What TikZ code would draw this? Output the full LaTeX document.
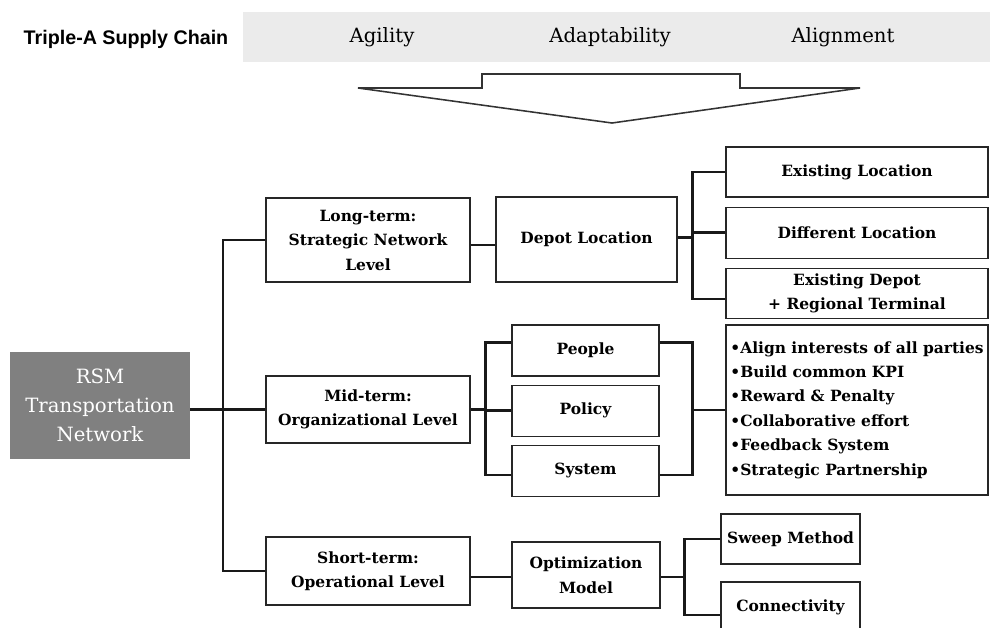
\documentclass[tikz,border=0pt]{standalone}
\usepackage{fontspec}
\setmainfont{DejaVu Serif}
\setsansfont{Liberation Sans}
\usetikzlibrary{positioning, calc}
\definecolor{bandgray}{RGB}{235,235,235}
\definecolor{rootgray}{RGB}{128,128,128}

\begin{document}
\begin{tikzpicture}[x=0.025cm, y=-0.025cm,
    box/.style={draw=black!85, line width=0.8pt, fill=white, align=center, inner sep=0pt,
        font=\bfseries\fontsize{11}{17.4}\selectfont},
    head/.style={font=\fontsize{14}{16}\selectfont},
    link/.style={line width=1.7pt, black!90}]
    \useasboundingbox (0,0) rectangle (990,627);

    \fill[bandgray] (243,12) rectangle (990,62);
    \node[font=\sffamily\bfseries\fontsize{14}{16}\selectfont] (chain) at (126,39) {Triple-A Supply Chain};
    \node[head] (agility) at (382,37) {Agility};
    \node[head] (adapt) at (610,37) {Adaptability};
    \node[head] (align) at (843,37) {Alignment};

    \draw[line width=1.1pt, black!80, fill=white]
        (482,74) -- (740,74) -- (740,88) -- (860,88) -- (612,123) -- (358,88) -- (482,88) -- cycle;

    \node[fill=rootgray, text=white, minimum width=4.5cm, minimum height=2.675cm, align=center,
        font=\fontsize{14}{20.6}\selectfont] (rsm) at (100,405.5) {RSM\\Transportation\\Network};

    \node[box, minimum width=5.1cm, minimum height=2.1cm] (long) at (368,240) {Long-term:\\Strategic Network\\Level};
    \node[box, minimum width=5.1cm, minimum height=1.675cm] (mid) at (368,409.5) {Mid-term:\\Organizational Level};
    \node[box, minimum width=5.1cm, minimum height=1.7cm] (short) at (368,571) {Short-term:\\Operational Level};

    \node[box, minimum width=4.525cm, minimum height=2.125cm] (depot) at (586.5,239.5) {Depot Location};
    \node[box, minimum width=6.55cm, minimum height=1.25cm] (exloc) at (857,172) {Existing Location};
    \node[box, minimum width=6.55cm, minimum height=1.275cm, below=0.225cm of exloc] (diffloc) {Different Location};
    \node[box, minimum width=6.55cm, minimum height=1.25cm, below=0.225cm of diffloc] (exdepot) {Existing Depot\\+ Regional Terminal};

    \node[box, minimum width=3.675cm, minimum height=1.275cm] (people) at (585.5,350.5) {People};
    \node[box, minimum width=3.675cm, minimum height=1.275cm, below=0.2cm of people] (policy) {Policy};
    \node[box, minimum width=3.675cm, minimum height=1.275cm, below=0.2cm of policy] (system) {System};
    \node[box, minimum width=6.55cm, minimum height=4.25cm, align=left] (bullets) at (857,410)
        {•Align interests of all parties\\•Build common KPI\\•Reward \& Penalty\\•Collaborative effort\\•Feedback System\\•Strategic Partnership};

    \node[box, minimum width=3.7cm, minimum height=1.65cm] (opt) at (586,575) {Optimization\\Model};
    \node[box, minimum width=3.475cm, minimum height=1.25cm] (sweep) at (790.5,539) {Sweep Method};
    \node[box, minimum width=3.475cm, minimum height=1.25cm] (conn) at (790.5,607) {Connectivity};

    \coordinate (trunk) at (223,409);
    \draw[link] (rsm.east |- mid.west) -- (mid.west);
    \draw[link] (long.west) -| (trunk) |- (short.west);

    \draw[link] ($(long.east)+(0,5)$) -- ($(long.east -| depot.west)+(0,5)$);
    \draw[link] ($(depot.east)+(0,-2)$) -- ++(16,0);
    \draw[link] (exloc.west) -- ++(-33,0) |- ($(exdepot.west)+(0,6)$);
    \draw[link] (diffloc.west) -- ++(-33,0);

    \draw[link] (mid.east) -- ++(16,0);
    \draw[link] ($(people.west)+(0,-8)$) -- ++(-26,0) |- ($(system.west)+(0,4)$);
    \draw[link] (policy.west) -- ++(-26,0);
    \draw[link] ($(people.east)+(0,-8)$) -- ++(33,0) |- ($(system.east)+(0,4)$);
    \draw[link] (bullets.west) -- ++(-34,0);

    \draw[link] ($(short.east |- opt.west)+(0,2)$) -- ($(opt.west)+(0,2)$);
    \draw[link] ($(opt.east)+(0,2)$) -- ++(25,0);
    \draw[link] (sweep.west) -- ++(-36,0) |- ($(conn.west)+(0,8)$);
\end{tikzpicture}
\end{document}
